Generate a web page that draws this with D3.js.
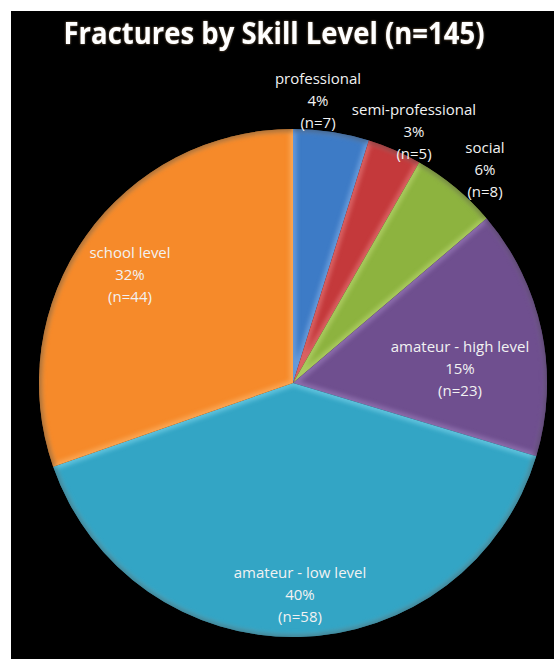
<!DOCTYPE html>
<html><head><meta charset="utf-8">
<script src="https://cdn.jsdelivr.net/npm/d3@7"></script>
<style>html,body{margin:0;padding:0;background:#fff;}svg{display:block;}</style>
</head><body>
<script>
const title = "Fractures by Skill Level (n=145)";
const categories = ["professional","semi-professional","social","amateur - high level","amateur - low level","school level"];
const counts = [7,5,8,23,58,44];
const percentLabels = ["4%","3%","6%","15%","40%","32%"];
const colors = ["#3d7bc6","#c4393b","#8db33f","#6f4f8f","#33a5c5","#f68a2a"];
const lightColors = ["#8fb8ec","#ee8a8a","#c6e07f","#a98bc8","#8ee0f4","#ffc07a"];
// label anchor points (center of each 3-line label)
const labelPos = [[318,101],[414,132],[485,170],[460,369],[300,595],[130,275]];

const W=554,H=659;
const svg=d3.select("body").append("svg").attr("width",W).attr("height",H);
svg.append("rect").attr("x",11).attr("y",11).attr("width",W-11).attr("height",H-11).attr("fill","#000");

const defs=svg.append("defs");
const blur=defs.append("filter").attr("id","blur").attr("x","-20%").attr("y","-20%").attr("width","140%").attr("height","140%");
blur.append("feGaussianBlur").attr("stdDeviation",2);
const glow=defs.append("filter").attr("id","glow").attr("x","-10%").attr("y","-30%").attr("width","120%").attr("height","160%");
glow.append("feGaussianBlur").attr("in","SourceAlpha").attr("stdDeviation",1.2).attr("result","b");
glow.append("feFlood").attr("flood-color","#c9a070").attr("flood-opacity",0.7);
glow.append("feComposite").attr("in2","b").attr("operator","in").attr("result","g");
const gm=glow.append("feMerge");gm.append("feMergeNode").attr("in","g");gm.append("feMergeNode").attr("in","SourceGraphic");

const cx=293,cy=383,R=254;
const pie=d3.pie().sort(null).value(d=>d)(counts);
const arc=d3.arc().innerRadius(0).outerRadius(R);
const g=svg.append("g").attr("transform",`translate(${cx},${cy})`);

pie.forEach((p,i)=>{
  defs.append("clipPath").attr("id","clip"+i).append("path").attr("d",arc(p));
  const sg=g.append("g");
  sg.append("path").attr("d",arc(p)).attr("fill",colors[i]);
  const cl=sg.append("g").attr("clip-path",`url(#clip${i})`);
  cl.append("path").attr("d",arc(p)).attr("fill","none").attr("stroke",lightColors[i])
    .attr("stroke-width",7).attr("opacity",0.5).attr("filter","url(#blur)");
  cl.append("path").attr("d",d3.arc().innerRadius(R-3).outerRadius(R+4)(p)).attr("fill","#000").attr("opacity",0.3).attr("filter","url(#blur)");
});

// labels
pie.forEach((p,i)=>{
  const [lx,ly]=labelPos[i];
  const lines=[categories[i],percentLabels[i],`(n=${counts[i]})`];
  const t=svg.append("text").attr("text-anchor","middle").attr("fill","#f2f2f2")
    .attr("font-family","'Open Sans',sans-serif").attr("font-size",15);
  lines.forEach((s,k)=>{
    t.append("tspan").attr("x",lx).attr("y",ly+(k-1)*22+5).text(s);
  });
});

// title
const tt=svg.append("text").attr("x",274).attr("y",44).attr("text-anchor","middle")
  .attr("fill","#fff").attr("font-family","'Open Sans',sans-serif").attr("font-weight","bold")
  .attr("font-size",31).attr("filter","url(#glow)").text(title);
tt.attr("textLength",421).attr("lengthAdjust","spacingAndGlyphs");
</script>
</body></html>
